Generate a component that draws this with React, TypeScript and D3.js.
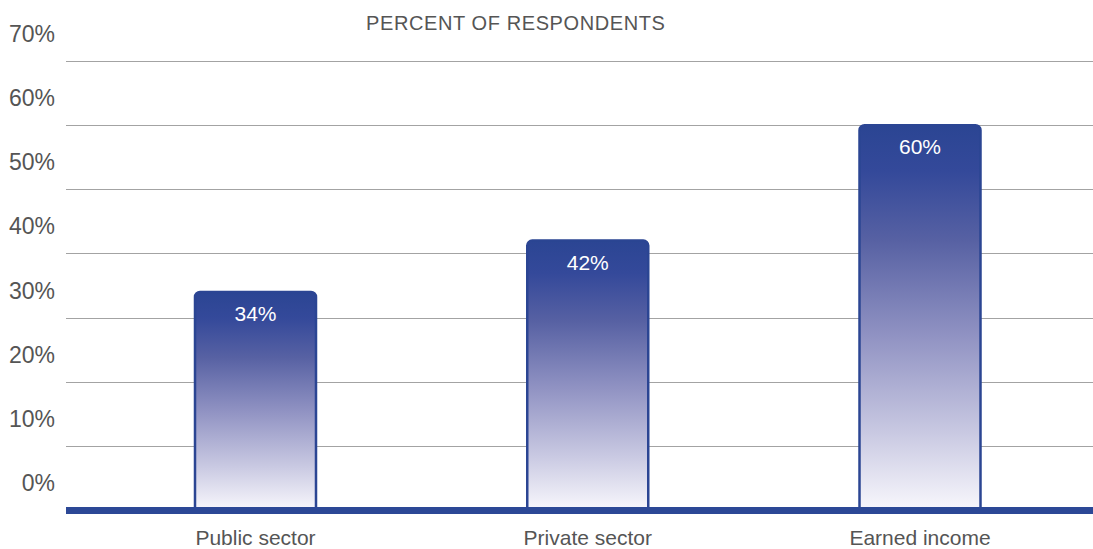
import React from "react";
import * as d3 from "d3";

const categories = ["Public sector", "Private sector", "Earned income"];
const values = [34, 42, 60];
const yTicks = [0, 10, 20, 30, 40, 50, 60, 70];
const title = "PERCENT OF RESPONDENTS";

const W = 1093;
const H = 549;
const FONT = "'Liberation Sans', Arial, Helvetica, sans-serif";

export default function App() {
  const y = d3.scaleLinear().domain([0, 70]).range([510, 61]);
  const x = d3.scalePoint<string>().domain(categories).range([255.5, 920]);
  const barW = 121;
  const r = 5;
  const left = 66;

  const barPath = (cx: number, v: number) => {
    const x0 = cx - barW / 2;
    const x1 = cx + barW / 2;
    const top = y(v);
    const bot = y(0);
    const p = d3.path();
    p.moveTo(x0, bot);
    p.lineTo(x0, top + r);
    p.arcTo(x0, top, x0 + r, top, r);
    p.lineTo(x1 - r, top);
    p.arcTo(x1, top, x1, top + r, r);
    p.lineTo(x1, bot);
    p.closePath();
    return p.toString();
  };

  return (
    <svg
      width={W}
      height={H}
      style={{ position: "absolute", left: 0, top: 0, background: "#fff" }}
      fontFamily={FONT}
    >
      <defs>
        <linearGradient id="barGrad" x1="0" y1="0" x2="0" y2="1">
          <stop offset="0" stopColor="#2b4593" />
          <stop offset="0.12" stopColor="#34499a" />
          <stop offset="0.3" stopColor="#5761a3" />
          <stop offset="0.55" stopColor="#9193c3" />
          <stop offset="0.8" stopColor="#c9c9e2" />
          <stop offset="1" stopColor="#f8f7fc" />
        </linearGradient>
      </defs>

      <text x={366} y={30} fontSize={20} letterSpacing={0.6} fill="#555">
        {title}
      </text>

      {yTicks.map((t) => (
        <g key={t}>
          {t > 0 && (
            <line
              x1={left}
              x2={W}
              y1={Math.round(y(t)) + 0.5}
              y2={Math.round(y(t)) + 0.5}
              stroke="#a3a3a3"
              strokeWidth={1}
            />
          )}
          <text x={55} y={y(t) - 19} textAnchor="end" fontSize={23} fill="#555">
            {t}%
          </text>
        </g>
      ))}

      {categories.map((c, i) => {
        const cx = x(c) as number;
        return (
          <g key={c}>
            <path
              d={barPath(cx, values[i])}
              fill="url(#barGrad)"
              stroke="#2b4593"
              strokeWidth={2.5}
            />
            <text
              x={cx}
              y={y(values[i]) + 29}
              textAnchor="middle"
              fontSize={21}
              fill="#fff"
            >
              {values[i]}%
            </text>
            <text x={cx} y={545} textAnchor="middle" fontSize={21} fill="#555">
              {c}
            </text>
          </g>
        );
      })}

      <rect x={left} y={507} width={W - left} height={7} fill="#2c4896" />
    </svg>
  );
}
